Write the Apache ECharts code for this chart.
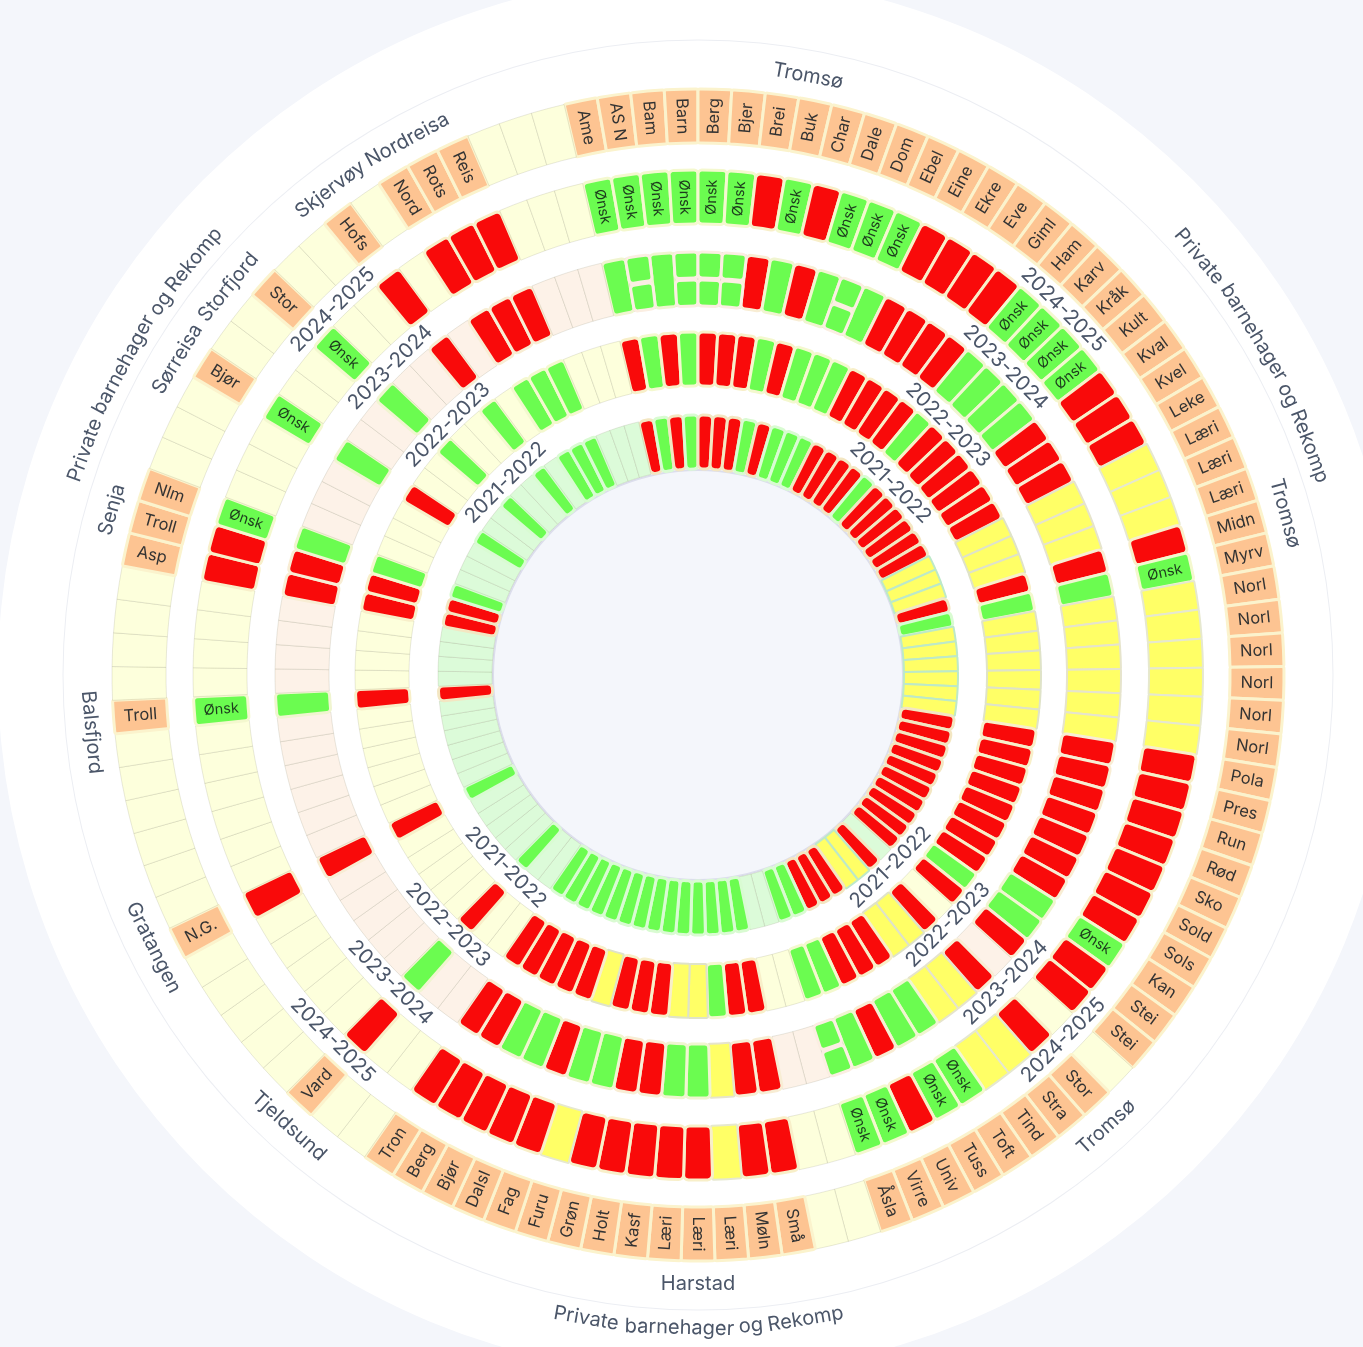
<!DOCTYPE html>
<html>
<head>
<meta charset="utf-8">
<title>Barnehager</title>
<script src="https://cdn.jsdelivr.net/npm/echarts@6/dist/echarts.min.js"></script>
<style>
  html, body { margin: 0; padding: 0; background: #f4f6fb; }
  #chart { width: 1363px; height: 1347px; }
</style>
</head>
<body>
<div id="chart"></div>
<script>
// every list runs clockwise, starting at "Ame"
var schools = ['Ame','AS N','Bam','Barn','Berg','Bjer','Brei','Buk','Char','Dale','Dom','Ebel','Eine','Ekre','Eve','Giml','Ham','Karv','Kråk','Kult',
  'Kval','Kvel','Leke','Læri','Læri','Læri','Midn','Myrv','Norl','Norl','Norl','Norl','Norl','Norl','Pola','Pres','Run','Rød','Sko','Sold',
  'Sols','Kan','Stei','Stei','','Stor','Stra','Tind','Toft','Tuss','Univ','Virre','Åsla','','','Små','Møln','Læri','Læri','Læri',
  'Kasf','Holt','Grøn','Furu','Fag','Dalsl','Bjør','Berg','Tron','','','Vard','','','','','','N.G.','','',
  '','','','','Troll','','','','','Asp','Troll','Nlm','','','','Bjør','','','Stor','',
  '','Hofs','','Nord','Rots','Reis','','',''];

// R red, G green, Y yellow, B blank, O green with "Ønsk", S green split in two
var status2021 = ['R','G','R','G','R','R','R','G','R','G','G','G','R','R','R','R','G','R','R','R',
  'R','R','R','Y','Y','Y','R','G','Y','Y','Y','Y','Y','Y','R','R','R','R','R','R',
  'R','R','R','R','B','R','Y','Y','R','R','R','G','G','B','B','G','G','G','G','G',
  'G','G','G','G','G','G','G','G','G','B','B','G','B','B','B','B','B','G','B','B',
  'B','B','B','B','R','B','B','B','B','R','R','G','B','B','B','G','B','B','G','B',
  'B','G','B','G','G','G','B','B','B'];
var status2022 = ['R','G','R','G','R','R','R','G','R','G','G','G','R','R','R','R','G','R','R','R',
  'R','R','R','Y','Y','Y','R','G','Y','Y','Y','Y','Y','Y','R','R','R','R','R','R',
  'R','R','G','R','B','R','Y','Y','R','R','R','G','G','B','B','R','R','G','Y','Y',
  'R','R','R','Y','R','R','R','R','R','B','B','R','B','B','B','B','B','R','B','B',
  'B','B','B','B','R','B','B','B','B','R','R','G','B','B','B','R','B','B','G','B',
  'B','G','B','G','G','G','B','B','B'];
var status2023 = ['G','S','G','S','S','S','R','G','R','G','S','G','R','R','R','R','G','G','G','G',
  'R','R','R','Y','Y','Y','R','G','Y','Y','Y','Y','Y','Y','R','R','R','R','R','R',
  'R','G','G','R','B','R','Y','Y','G','G','R','G','S','B','B','R','R','Y','G','G',
  'R','R','G','G','R','G','G','R','R','B','B','G','B','B','B','B','B','R','B','B',
  'B','B','B','B','G','B','B','B','B','R','R','G','B','B','B','G','B','B','G','B',
  'B','R','B','R','R','R','B','B','B'];
var status2024 = ['O','O','O','O','O','O','R','O','R','O','O','O','R','R','R','R','O','O','O','O',
  'R','R','R','Y','Y','Y','R','O','Y','Y','Y','Y','Y','Y','R','R','R','R','R','R',
  'R','O','R','R','B','R','Y','Y','O','O','R','O','O','B','B','R','R','Y','R','R',
  'R','R','R','Y','R','R','R','R','R','B','B','R','B','B','B','B','B','R','B','B',
  'B','B','B','B','O','B','B','B','B','R','R','O','B','B','B','O','B','B','O','B',
  'B','R','B','R','R','R','B','B','B'];

var yearLabels = ['2021-2022','2022-2023','2023-2024','2024-2025'];

// outer text rings, clockwise from straight up, spans in degrees
// long names go word by word so they follow the circle
var areaNames = ['Tromsø','Tromsø','Tromsø','Harstad','Tjeldsund','Gratangen','Balsfjord','Senja','Sørreisa','Storfjord','','Skjervøy','Nordreisa',''];
var areaSpans = [20.8,107.6,19,65.2,19.2,23.2,19.2,23.1,7.9,8.7,4.9,8.1,9.2,23.9];
var ownerNames = ['','Private','barnehager','og','Rekomp','',
  '','Rekomp','og','barnehager','Private','',
  '','Private','barnehager','og','Rekomp',''];
var ownerSpans = [46.94,6.4,10.05,2.52,7.15,46.94,
  46.94,7.15,2.52,10.05,6.4,46.94,
  46.94,6.4,10.05,2.52,7.15,46.94];

var FONT = 'Inter, "Noto Sans", sans-serif';
var RED = '#f90a0a', GREEN = '#6bfc50', YELLOW = '#ffff66', ORANGE = '#fdc492';
var firstAngle = 90 + 360 * 4 / schools.length;

var chart = echarts.init(document.getElementById('chart'));

function backdrop(radius, color) {
  return {
    type: 'pie', center: [698, 675], radius: radius, silent: true, animation: false,
    label: { show: false }, labelLine: { show: false },
    itemStyle: { color: color }, data: [{ value: 1 }]
  };
}

function sunburst(radius, startAngle, data) {
  return {
    type: 'sunburst', center: [698, 675], radius: radius, startAngle: startAngle,
    sort: null, nodeClick: false, silent: true, animation: false,
    label: { rotate: 'radial', fontFamily: FONT, fontSize: 16.5, color: '#333' },
    data: data
  };
}

function cell(name, color, border, width, round) {
  return {
    name: name, value: 1,
    itemStyle: { color: color, borderColor: border, borderWidth: width, borderRadius: round }
  };
}

// one ring of status cells; pale is the blank colour of that ring
function ring(codes, radius, pale, seams) {
  return sunburst(radius, firstAngle, codes.map(function (c) {
    if (c === 'R') return cell('', RED, seams.red, 3, 5);
    if (c === 'G') return cell('', GREEN, seams.green, 3, 4);
    if (c === 'Y') return cell('', YELLOW, seams.yellow, 2, 1);
    if (c === 'O') {
      var o = cell('Ønsk', GREEN, seams.green, 3, 4);
      o.label = { fontSize: 14.5, color: '#1d3b1d' };
      return o;
    }
    return cell('', pale, 'rgba(120,120,90,0.16)', 1, 0);
  }));
}

// the two halves of a split cell are laid over the ring
function splitHalf(codes, radius, seam) {
  return sunburst(radius, firstAngle, codes.map(function (c) {
    return c === 'S' ? cell('', GREEN, seam, 3, 4) : cell('', 'transparent', 'transparent', 0, 0);
  }));
}

function textRing(radius, names, spans, size, color) {
  return sunburst(radius, 90, names.map(function (n, i) {
    return {
      name: n, value: spans[i],
      itemStyle: { color: 'transparent', borderWidth: 0 },
      label: { rotate: 'tangential', fontSize: size, color: color }
    };
  }));
}

function yearRing(radius, name) {
  return textRing(radius, [name, name, name, name], [1, 1, 1, 1], 20.5, '#4b5669');
}

var schoolCells = schools.map(function (s) {
  if (!s) return cell('', '#fdffdc', 'rgba(120,120,90,0.16)', 1, 0);
  return cell(s, ORANGE, '#fbf3cd', 3, 2);
});

chart.setOption({
  backgroundColor: '#f4f6fb',
  series: [
    backdrop([205, 700], '#ffffff'),
    backdrop([634.5, 635.5], '#eceef3'),
    backdrop([204, 206], '#dcdeec'),
    ring(status2021, [206, 260], '#dcfbd9', { red: '#f3e6c2', green: '#d9fbd2', yellow: '#bde9c8' }),
    ring(status2022, [289, 343], '#fdffdc', { red: '#f8efc9', green: '#f4f8cf', yellow: '#dfe3c8' }),
    ring(status2023, [369, 423], '#fdf2e8', { red: '#f8edd4', green: '#f0f5d0', yellow: '#e6e4cc' }),
    splitHalf(status2023, [369, 395], '#fbeee2'),
    splitHalf(status2023, [397, 423], '#fbeee2'),
    ring(status2024, [451, 505], '#fdffdc', { red: '#f8efc9', green: '#f4f8cf', yellow: '#e6e8cf' }),
    sunburst([532, 586], firstAngle, schoolCells),
    yearRing([257, 287], yearLabels[0]),
    yearRing([339, 368], yearLabels[1]),
    yearRing([420, 450], yearLabels[2]),
    yearRing([502, 531], yearLabels[3]),
    textRing([588, 630], areaNames, areaSpans, 20, '#4b5669'),
    textRing([644, 662], ownerNames, ownerSpans, 20, '#4b5669')
  ]
});
</script>
</body>
</html>
